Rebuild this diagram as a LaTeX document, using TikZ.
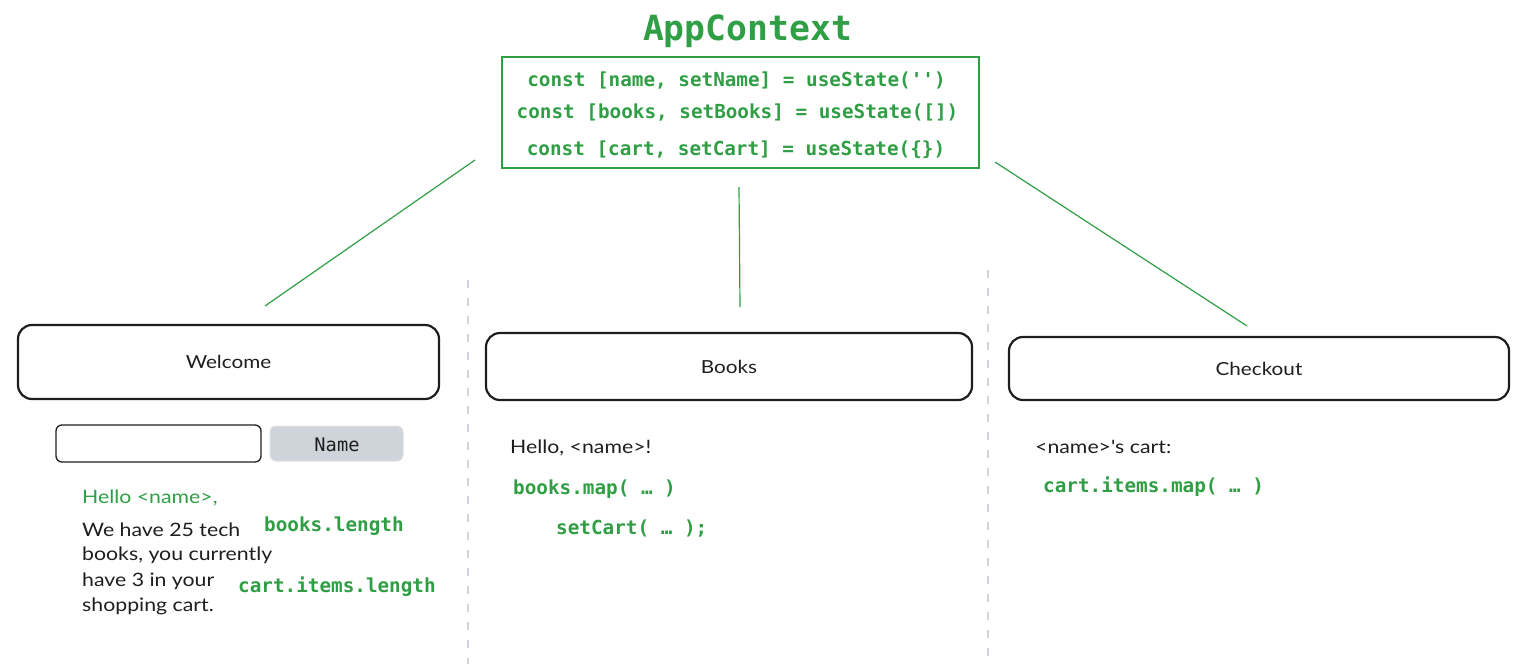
\documentclass[tikz,border=0pt]{standalone}
\usepackage{fontspec}
\setmainfont{Lato}
\newfontfamily\handfont[FakeStretch=1.15]{Lato}
\setmonofont{DejaVu Sans Mono}
\definecolor{grn}{HTML}{2F9E44}
\definecolor{ink}{HTML}{1E1E1E}
\definecolor{btn}{HTML}{CED4DA}
\definecolor{btnedge}{HTML}{DEE2E6}
\definecolor{sep}{HTML}{CED4DA}
\begin{document}
\begin{tikzpicture}[x=1pt,y=-1pt,
  code/.style={font=\ttfamily\bfseries\fontsize{19.3}{23}\selectfont, text=grn, inner sep=0pt},
  hand/.style={font=\handfont\fontsize{18.5}{22}\selectfont, text=ink, inner sep=0pt},
  panel/.style={draw=ink, line width=2.2pt, rounded corners=14pt, font=\handfont\fontsize{18}{22}\selectfont, text=ink},
  link/.style={draw=grn, line width=1.2pt},
  sepline/.style={draw=sep, line width=2pt, dash pattern=on 8pt off 10pt},
]
\useasboundingbox (0,0) rectangle (1531,664);

% separators
\draw[sepline] (468,280) -- (468,664);
\draw[sepline] (988,270) -- (988,660);

% context
\node[code, font=\ttfamily\bfseries\fontsize{34.7}{40}\selectfont, anchor=base] (title) at (747.5,40) {AppContext};
\node[draw=grn, line width=1.3pt, minimum width=477pt, minimum height=111pt, inner sep=0pt] (ctx) at (740.5,112.5) {};
\node[code, anchor=base] (l1) at (736.5,86) {const [name, setName] = useState('')};
\node[code, anchor=base] (l2) at (737.5,118) {const [books, setBooks] = useState([])};
\node[code, anchor=base] (l3) at (736,155) {const [cart, setCart] = useState(\{\})};

% panels
\node[panel, minimum width=421pt, minimum height=74pt] (welcome) at (228.5,362) {Welcome};
\node[panel, minimum width=486pt, minimum height=67pt] (books) at (729,366.5) {Books};
\node[panel, minimum width=500pt, minimum height=63pt] (checkout) at (1259,368.5) {Checkout};

% connectors
\coordinate (a1) at (475,160);
\coordinate (a2) at (265,306);
\coordinate (b1) at (739,187);
\coordinate (b2) at (740,307);
\coordinate (c1) at (995,162);
\coordinate (c2) at (1247,326);
\draw[link] (a1) -- (a2);
\draw[link] (b1) -- (b2);
\draw[link] (c1) -- (c2);

% welcome contents
\node[draw=ink, line width=1.3pt, rounded corners=6pt, minimum width=205pt, minimum height=37pt, inner sep=0pt] (input) at (158.5,443.5) {};
\node[fill=btn, draw=btnedge, line width=1pt, rounded corners=6pt, minimum width=133pt, minimum height=35pt, inner sep=0pt] (button) at (336.5,443.5) {};
\node[font=\ttfamily\fontsize{18.7}{22}\selectfont, text=ink, anchor=base, inner sep=0pt] (namelbl) at (337,451) {Name};

\node[hand, text=grn, anchor=base west] (hello1) at (82,503) {Hello <name>,};
\node[hand, anchor=base west] (w1) at (82,536) {We have 25 tech};
\node[hand, anchor=base west] (w2) at (82,560) {books, you currently};
\node[hand, anchor=base west] (w3) at (82,586) {have 3 in your};
\node[hand, anchor=base west] (w4) at (82,611) {shopping cart.};
\node[code, anchor=base west] (blen) at (264,531) {books.length};
\node[code, anchor=base west] (clen) at (238,592) {cart.items.length};

% books contents
\node[hand, anchor=base west] (hello2) at (510,453) {Hello, <name>!};
\node[code, anchor=base west] (bmap) at (513,494) {books.map( … )};
\node[code, anchor=base west] (scart) at (556,534) {setCart( … );};

% checkout contents
\node[hand, anchor=base west] (ncart) at (1035,453) {<name>'s cart:};
\node[code, anchor=base west] (cmap) at (1043,492) {cart.items.map( … )};
\end{tikzpicture}
\end{document}
